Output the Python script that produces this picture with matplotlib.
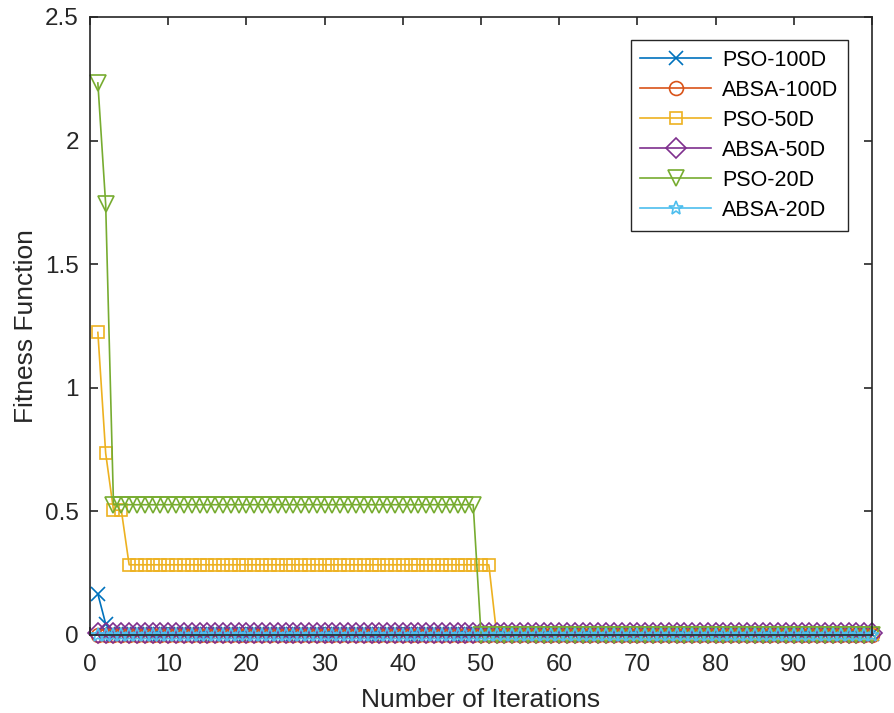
import matplotlib.pyplot as plt

plt.rcParams['font.family'] = ['Liberation Sans', 'DejaVu Sans']

iterations = list(range(1, 101))

# one value per iteration
pso_100d = [0.166, 0.045] + [0.003] * 98
absa_100d = [0.001] * 100
pso_50d = [1.224, 0.735, 0.505, 0.505] + [0.284] * 47 + [0.003] * 49
absa_50d = [0.008] * 100
pso_20d = [2.233, 1.742] + [0.527] * 47 + [0.002] * 51
absa_20d = [0.002] * 100

labels = ['PSO-100D', 'ABSA-100D', 'PSO-50D', 'ABSA-50D', 'PSO-20D', 'ABSA-20D']
colors = ['#0072BD', '#D95319', '#EDB120', '#7E2F8E', '#77AC30', '#4DBEEE']
markers = ['x', 'o', 's', 'D', 'v', '*']
sizes = [10, 10, 9, 10, 12, 10]

series = [pso_100d, absa_100d, pso_50d, absa_50d, pso_20d, absa_20d]

fig = plt.figure(figsize=(8.95, 7.13), dpi=100)
ax = fig.add_axes([0.1006, 0.1094, 0.8737, 0.8668])

for vals, lab, c, m, s in zip(series, labels, colors, markers, sizes):
    ax.plot(iterations, vals, color=c, marker=m, markersize=s,
            markerfacecolor='none', markeredgewidth=1.2, linewidth=1.2,
            label=lab, clip_on=False)

ax.set_xlim(0, 100)
ax.set_ylim(0, 2.5)
ax.set_xticks(range(0, 101, 10))
ax.set_yticks([0, 0.5, 1, 1.5, 2, 2.5])
ax.set_yticklabels(['0', '0.5', '1', '1.5', '2', '2.5'])
ax.tick_params(direction='in', top=True, right=True, labelsize=17.5, length=6,
               colors='#262626', width=1.2)
ax.tick_params(axis='x', pad=14)
ax.tick_params(axis='y', pad=8)
for sp in ax.spines.values():
    sp.set_color('#262626')
    sp.set_linewidth(1.2)

ax.set_xlabel('Number of Iterations', fontsize=19, color='#262626', labelpad=8)
ax.set_ylabel('Fitness Function', fontsize=19, color='#262626', labelpad=5)

leg = ax.legend(loc='upper right', bbox_to_anchor=(0.983, 0.980), fontsize=15.5,
                fancybox=False, edgecolor='#262626', framealpha=1,
                handlelength=3.3, labelspacing=0.42, borderpad=0.45,
                handletextpad=0.5)
leg.get_frame().set_linewidth(1.0)

fig.savefig('out.png', dpi=100)
